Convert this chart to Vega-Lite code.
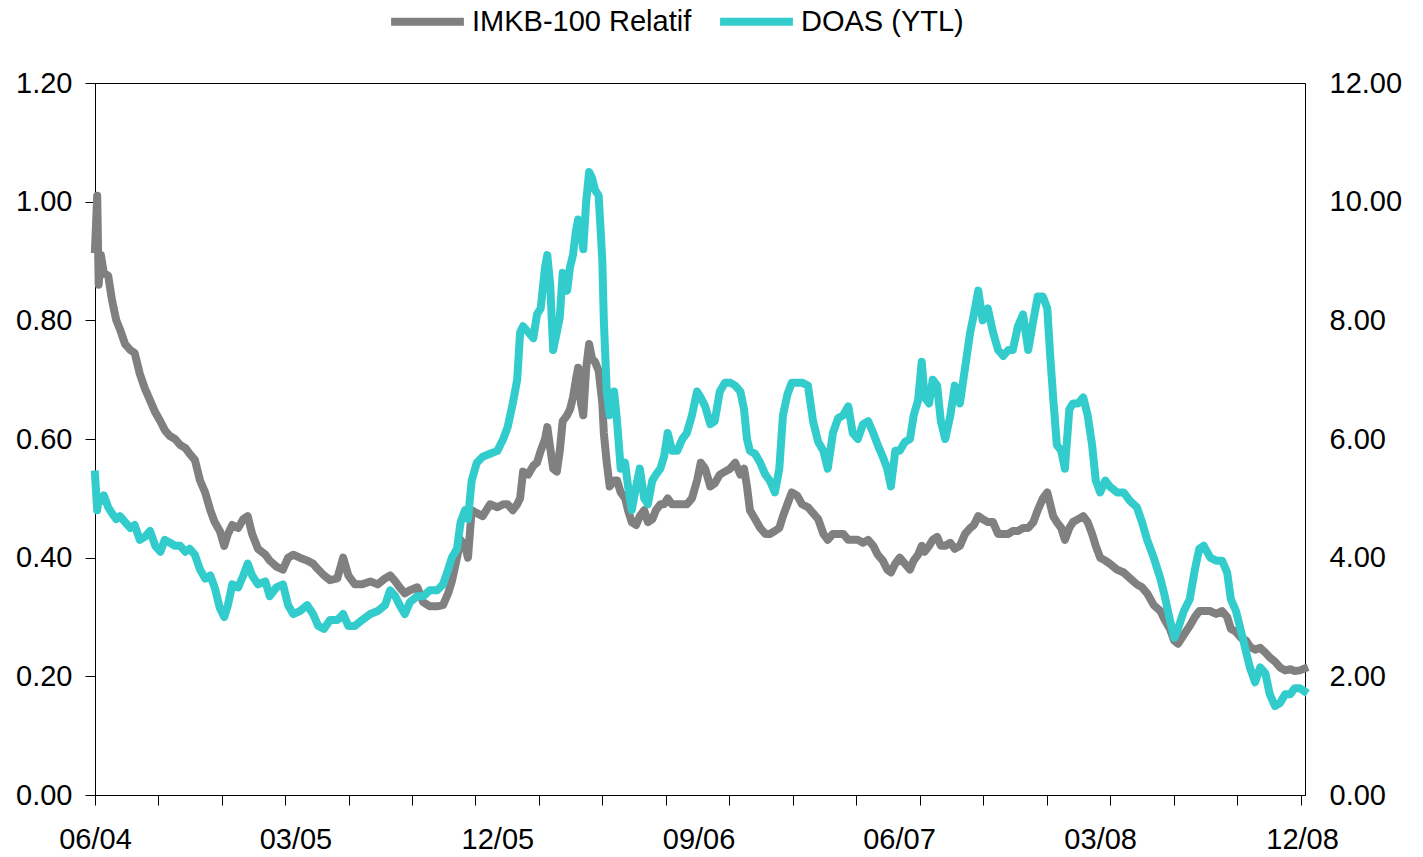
{
  "$schema": "https://vega.github.io/schema/vega-lite/v6.json",
  "width": 1210,
  "height": 712,
  "autosize": {"type": "none"},
  "padding": {"left": 95, "top": 83, "right": 118, "bottom": 62},
  "background": "white",
  "config": {
    "view": {"stroke": "#000000", "strokeWidth": 1},
    "axis": {
      "labelFont": "Liberation Sans",
      "labelFontSize": 29,
      "labelColor": "#000000",
      "domainColor": "#000000",
      "tickColor": "#000000",
      "domainWidth": 1,
      "tickWidth": 1,
      "grid": false,
      "title": null
    },
    "legend": {
      "labelFont": "Liberation Sans",
      "labelFontSize": 29,
      "labelColor": "#000000",
      "labelLimit": 400
    }
  },
  "data": {
    "values": [
      {"date": "2004-06-01", "imkb": 0.92, "doas": 5.4},
      {"date": "2004-06-04", "imkb": 1.01, "doas": 4.8},
      {"date": "2004-06-06", "imkb": 0.86, "doas": 5.0},
      {"date": "2004-06-09", "imkb": 0.91, "doas": 4.95},
      {"date": "2004-06-13", "imkb": 0.88, "doas": 5.05},
      {"date": "2004-06-19", "imkb": 0.875, "doas": 4.85},
      {"date": "2004-06-24", "imkb": 0.835, "doas": 4.75},
      {"date": "2004-06-30", "imkb": 0.80, "doas": 4.65},
      {"date": "2004-07-05", "imkb": 0.785, "doas": 4.7},
      {"date": "2004-07-12", "imkb": 0.76, "doas": 4.6},
      {"date": "2004-07-19", "imkb": 0.75, "doas": 4.5},
      {"date": "2004-07-25", "imkb": 0.745, "doas": 4.55},
      {"date": "2004-08-01", "imkb": 0.71, "doas": 4.3},
      {"date": "2004-08-08", "imkb": 0.685, "doas": 4.35},
      {"date": "2004-08-15", "imkb": 0.665, "doas": 4.45},
      {"date": "2004-08-22", "imkb": 0.645, "doas": 4.2},
      {"date": "2004-08-29", "imkb": 0.63, "doas": 4.1},
      {"date": "2004-09-04", "imkb": 0.615, "doas": 4.3},
      {"date": "2004-09-11", "imkb": 0.605, "doas": 4.25},
      {"date": "2004-09-18", "imkb": 0.60, "doas": 4.2},
      {"date": "2004-09-25", "imkb": 0.59, "doas": 4.2},
      {"date": "2004-10-02", "imkb": 0.585, "doas": 4.1},
      {"date": "2004-10-08", "imkb": 0.575, "doas": 4.15},
      {"date": "2004-10-15", "imkb": 0.565, "doas": 4.05},
      {"date": "2004-10-22", "imkb": 0.53, "doas": 3.8},
      {"date": "2004-10-29", "imkb": 0.51, "doas": 3.65},
      {"date": "2004-11-05", "imkb": 0.48, "doas": 3.7},
      {"date": "2004-11-11", "imkb": 0.46, "doas": 3.5},
      {"date": "2004-11-18", "imkb": 0.445, "doas": 3.15},
      {"date": "2004-11-24", "imkb": 0.42, "doas": 3.0},
      {"date": "2004-11-29", "imkb": 0.44, "doas": 3.2},
      {"date": "2004-12-05", "imkb": 0.455, "doas": 3.55},
      {"date": "2004-12-13", "imkb": 0.45, "doas": 3.5},
      {"date": "2004-12-20", "imkb": 0.465, "doas": 3.7},
      {"date": "2004-12-26", "imkb": 0.47, "doas": 3.9},
      {"date": "2005-01-01", "imkb": 0.44, "doas": 3.7},
      {"date": "2005-01-09", "imkb": 0.415, "doas": 3.55},
      {"date": "2005-01-19", "imkb": 0.405, "doas": 3.6},
      {"date": "2005-01-25", "imkb": 0.395, "doas": 3.35},
      {"date": "2005-02-03", "imkb": 0.385, "doas": 3.5},
      {"date": "2005-02-12", "imkb": 0.38, "doas": 3.55},
      {"date": "2005-02-19", "imkb": 0.40, "doas": 3.2},
      {"date": "2005-02-26", "imkb": 0.405, "doas": 3.05},
      {"date": "2005-03-07", "imkb": 0.40, "doas": 3.1},
      {"date": "2005-03-17", "imkb": 0.395, "doas": 3.2},
      {"date": "2005-03-25", "imkb": 0.39, "doas": 3.05},
      {"date": "2005-04-01", "imkb": 0.38, "doas": 2.85},
      {"date": "2005-04-09", "imkb": 0.37, "doas": 2.8},
      {"date": "2005-04-17", "imkb": 0.362, "doas": 2.95},
      {"date": "2005-04-27", "imkb": 0.365, "doas": 2.95},
      {"date": "2005-05-05", "imkb": 0.40, "doas": 3.05},
      {"date": "2005-05-12", "imkb": 0.37, "doas": 2.85},
      {"date": "2005-05-21", "imkb": 0.355, "doas": 2.85},
      {"date": "2005-05-31", "imkb": 0.355, "doas": 2.95},
      {"date": "2005-06-11", "imkb": 0.36, "doas": 3.05},
      {"date": "2005-06-21", "imkb": 0.355, "doas": 3.1},
      {"date": "2005-07-01", "imkb": 0.365, "doas": 3.2},
      {"date": "2005-07-08", "imkb": 0.37, "doas": 3.45},
      {"date": "2005-07-15", "imkb": 0.36, "doas": 3.35},
      {"date": "2005-07-21", "imkb": 0.35, "doas": 3.2},
      {"date": "2005-07-28", "imkb": 0.34, "doas": 3.05},
      {"date": "2005-08-04", "imkb": 0.345, "doas": 3.25},
      {"date": "2005-08-14", "imkb": 0.35, "doas": 3.35},
      {"date": "2005-08-22", "imkb": 0.325, "doas": 3.35},
      {"date": "2005-08-31", "imkb": 0.318, "doas": 3.45},
      {"date": "2005-09-10", "imkb": 0.318, "doas": 3.45},
      {"date": "2005-09-18", "imkb": 0.32, "doas": 3.55},
      {"date": "2005-09-25", "imkb": 0.34, "doas": 3.8},
      {"date": "2005-09-30", "imkb": 0.36, "doas": 4.0},
      {"date": "2005-10-07", "imkb": 0.40, "doas": 4.15},
      {"date": "2005-10-12", "imkb": 0.43, "doas": 4.6},
      {"date": "2005-10-18", "imkb": 0.42, "doas": 4.8},
      {"date": "2005-10-22", "imkb": 0.40, "doas": 4.65},
      {"date": "2005-10-27", "imkb": 0.48, "doas": 5.3},
      {"date": "2005-11-03", "imkb": 0.475, "doas": 5.6},
      {"date": "2005-11-11", "imkb": 0.47, "doas": 5.7},
      {"date": "2005-11-21", "imkb": 0.49, "doas": 5.75},
      {"date": "2005-12-01", "imkb": 0.485, "doas": 5.8},
      {"date": "2005-12-09", "imkb": 0.49, "doas": 6.0},
      {"date": "2005-12-15", "imkb": 0.49, "doas": 6.2},
      {"date": "2005-12-22", "imkb": 0.48, "doas": 6.6},
      {"date": "2005-12-28", "imkb": 0.49, "doas": 7.0},
      {"date": "2006-01-01", "imkb": 0.50, "doas": 7.8},
      {"date": "2006-01-05", "imkb": 0.545, "doas": 7.9},
      {"date": "2006-01-12", "imkb": 0.54, "doas": 7.8},
      {"date": "2006-01-19", "imkb": 0.555, "doas": 7.7},
      {"date": "2006-01-24", "imkb": 0.56, "doas": 8.1},
      {"date": "2006-01-29", "imkb": 0.58, "doas": 8.2},
      {"date": "2006-02-04", "imkb": 0.60, "doas": 8.9},
      {"date": "2006-02-07", "imkb": 0.62, "doas": 9.1},
      {"date": "2006-02-11", "imkb": 0.585, "doas": 8.6},
      {"date": "2006-02-15", "imkb": 0.55, "doas": 7.5},
      {"date": "2006-02-20", "imkb": 0.545, "doas": 7.8},
      {"date": "2006-02-24", "imkb": 0.58, "doas": 8.05},
      {"date": "2006-02-28", "imkb": 0.63, "doas": 8.8},
      {"date": "2006-03-06", "imkb": 0.64, "doas": 8.5},
      {"date": "2006-03-10", "imkb": 0.65, "doas": 8.9},
      {"date": "2006-03-14", "imkb": 0.67, "doas": 9.1},
      {"date": "2006-03-18", "imkb": 0.70, "doas": 9.5},
      {"date": "2006-03-21", "imkb": 0.72, "doas": 9.7},
      {"date": "2006-03-25", "imkb": 0.66, "doas": 9.6},
      {"date": "2006-03-28", "imkb": 0.64, "doas": 9.2},
      {"date": "2006-04-01", "imkb": 0.72, "doas": 10.0},
      {"date": "2006-04-05", "imkb": 0.76, "doas": 10.5},
      {"date": "2006-04-09", "imkb": 0.735, "doas": 10.4},
      {"date": "2006-04-13", "imkb": 0.73, "doas": 10.2},
      {"date": "2006-04-18", "imkb": 0.715, "doas": 10.1},
      {"date": "2006-04-23", "imkb": 0.66, "doas": 9.0},
      {"date": "2006-04-25", "imkb": 0.61, "doas": 8.0},
      {"date": "2006-04-29", "imkb": 0.56, "doas": 6.8},
      {"date": "2006-05-03", "imkb": 0.52, "doas": 6.4},
      {"date": "2006-05-09", "imkb": 0.53, "doas": 6.8},
      {"date": "2006-05-13", "imkb": 0.53, "doas": 6.3},
      {"date": "2006-05-18", "imkb": 0.51, "doas": 5.5},
      {"date": "2006-05-24", "imkb": 0.50, "doas": 5.6},
      {"date": "2006-05-28", "imkb": 0.48, "doas": 5.2},
      {"date": "2006-06-02", "imkb": 0.46, "doas": 4.8},
      {"date": "2006-06-08", "imkb": 0.455, "doas": 5.2},
      {"date": "2006-06-13", "imkb": 0.47, "doas": 5.5},
      {"date": "2006-06-19", "imkb": 0.48, "doas": 5.0},
      {"date": "2006-06-24", "imkb": 0.46, "doas": 4.9},
      {"date": "2006-06-30", "imkb": 0.465, "doas": 5.3},
      {"date": "2006-07-05", "imkb": 0.48, "doas": 5.4},
      {"date": "2006-07-11", "imkb": 0.49, "doas": 5.5},
      {"date": "2006-07-16", "imkb": 0.49, "doas": 5.7},
      {"date": "2006-07-21", "imkb": 0.50, "doas": 6.1},
      {"date": "2006-07-27", "imkb": 0.49, "doas": 5.8},
      {"date": "2006-08-03", "imkb": 0.49, "doas": 5.8},
      {"date": "2006-08-10", "imkb": 0.49, "doas": 6.0},
      {"date": "2006-08-16", "imkb": 0.49, "doas": 6.1},
      {"date": "2006-08-23", "imkb": 0.50, "doas": 6.4},
      {"date": "2006-08-30", "imkb": 0.53, "doas": 6.8},
      {"date": "2006-09-04", "imkb": 0.56, "doas": 6.7},
      {"date": "2006-09-10", "imkb": 0.55, "doas": 6.55},
      {"date": "2006-09-17", "imkb": 0.52, "doas": 6.25},
      {"date": "2006-09-23", "imkb": 0.525, "doas": 6.3},
      {"date": "2006-09-30", "imkb": 0.54, "doas": 6.8},
      {"date": "2006-10-07", "imkb": 0.545, "doas": 6.95},
      {"date": "2006-10-14", "imkb": 0.55, "doas": 6.95},
      {"date": "2006-10-21", "imkb": 0.56, "doas": 6.9},
      {"date": "2006-10-28", "imkb": 0.54, "doas": 6.8},
      {"date": "2006-11-02", "imkb": 0.55, "doas": 6.5},
      {"date": "2006-11-06", "imkb": 0.52, "doas": 6.0},
      {"date": "2006-11-10", "imkb": 0.48, "doas": 5.8},
      {"date": "2006-11-17", "imkb": 0.465, "doas": 5.75},
      {"date": "2006-11-24", "imkb": 0.45, "doas": 5.6},
      {"date": "2006-12-01", "imkb": 0.44, "doas": 5.4},
      {"date": "2006-12-07", "imkb": 0.44, "doas": 5.3},
      {"date": "2006-12-14", "imkb": 0.445, "doas": 5.1},
      {"date": "2006-12-20", "imkb": 0.45, "doas": 5.5},
      {"date": "2006-12-25", "imkb": 0.47, "doas": 6.4},
      {"date": "2006-12-31", "imkb": 0.49, "doas": 6.75},
      {"date": "2007-01-06", "imkb": 0.51, "doas": 6.95},
      {"date": "2007-01-13", "imkb": 0.505, "doas": 6.95},
      {"date": "2007-01-20", "imkb": 0.49, "doas": 6.95},
      {"date": "2007-01-28", "imkb": 0.485, "doas": 6.9},
      {"date": "2007-02-04", "imkb": 0.475, "doas": 6.3},
      {"date": "2007-02-11", "imkb": 0.465, "doas": 5.95},
      {"date": "2007-02-18", "imkb": 0.44, "doas": 5.8},
      {"date": "2007-02-24", "imkb": 0.43, "doas": 5.5},
      {"date": "2007-03-03", "imkb": 0.44, "doas": 6.1},
      {"date": "2007-03-10", "imkb": 0.44, "doas": 6.35},
      {"date": "2007-03-17", "imkb": 0.44, "doas": 6.4},
      {"date": "2007-03-24", "imkb": 0.43, "doas": 6.55},
      {"date": "2007-03-30", "imkb": 0.43, "doas": 6.1},
      {"date": "2007-04-06", "imkb": 0.43, "doas": 6.0},
      {"date": "2007-04-13", "imkb": 0.425, "doas": 6.25},
      {"date": "2007-04-20", "imkb": 0.43, "doas": 6.3},
      {"date": "2007-04-27", "imkb": 0.42, "doas": 6.1},
      {"date": "2007-05-03", "imkb": 0.405, "doas": 5.9},
      {"date": "2007-05-10", "imkb": 0.395, "doas": 5.7},
      {"date": "2007-05-16", "imkb": 0.38, "doas": 5.5},
      {"date": "2007-05-21", "imkb": 0.375, "doas": 5.2},
      {"date": "2007-05-27", "imkb": 0.39, "doas": 5.8},
      {"date": "2007-06-02", "imkb": 0.40, "doas": 5.8},
      {"date": "2007-06-09", "imkb": 0.39, "doas": 5.95},
      {"date": "2007-06-16", "imkb": 0.38, "doas": 6.0},
      {"date": "2007-06-21", "imkb": 0.395, "doas": 6.4},
      {"date": "2007-06-27", "imkb": 0.405, "doas": 6.65},
      {"date": "2007-07-02", "imkb": 0.42, "doas": 7.3},
      {"date": "2007-07-06", "imkb": 0.41, "doas": 6.7},
      {"date": "2007-07-12", "imkb": 0.42, "doas": 6.6},
      {"date": "2007-07-17", "imkb": 0.43, "doas": 7.0},
      {"date": "2007-07-23", "imkb": 0.435, "doas": 6.9},
      {"date": "2007-07-28", "imkb": 0.42, "doas": 6.3},
      {"date": "2007-08-03", "imkb": 0.42, "doas": 6.0},
      {"date": "2007-08-10", "imkb": 0.425, "doas": 6.4},
      {"date": "2007-08-16", "imkb": 0.415, "doas": 6.9},
      {"date": "2007-08-23", "imkb": 0.42, "doas": 6.6},
      {"date": "2007-08-30", "imkb": 0.44, "doas": 7.2},
      {"date": "2007-09-06", "imkb": 0.45, "doas": 7.8},
      {"date": "2007-09-11", "imkb": 0.455, "doas": 8.1},
      {"date": "2007-09-17", "imkb": 0.47, "doas": 8.5},
      {"date": "2007-09-23", "imkb": 0.465, "doas": 8.0},
      {"date": "2007-09-30", "imkb": 0.46, "doas": 8.2},
      {"date": "2007-10-07", "imkb": 0.46, "doas": 7.8},
      {"date": "2007-10-14", "imkb": 0.44, "doas": 7.5},
      {"date": "2007-10-21", "imkb": 0.44, "doas": 7.4},
      {"date": "2007-10-28", "imkb": 0.44, "doas": 7.5},
      {"date": "2007-11-03", "imkb": 0.445, "doas": 7.5},
      {"date": "2007-11-10", "imkb": 0.445, "doas": 7.9},
      {"date": "2007-11-17", "imkb": 0.45, "doas": 8.1},
      {"date": "2007-11-24", "imkb": 0.45, "doas": 7.5},
      {"date": "2007-12-01", "imkb": 0.46, "doas": 8.0},
      {"date": "2007-12-07", "imkb": 0.48, "doas": 8.4},
      {"date": "2007-12-14", "imkb": 0.50, "doas": 8.4},
      {"date": "2007-12-20", "imkb": 0.51, "doas": 8.2},
      {"date": "2007-12-24", "imkb": 0.49, "doas": 7.4},
      {"date": "2007-12-28", "imkb": 0.47, "doas": 6.7},
      {"date": "2008-01-02", "imkb": 0.46, "doas": 5.9},
      {"date": "2008-01-08", "imkb": 0.45, "doas": 5.8},
      {"date": "2008-01-13", "imkb": 0.43, "doas": 5.5},
      {"date": "2008-01-19", "imkb": 0.45, "doas": 6.5},
      {"date": "2008-01-24", "imkb": 0.46, "doas": 6.6},
      {"date": "2008-01-31", "imkb": 0.465, "doas": 6.6},
      {"date": "2008-02-07", "imkb": 0.47, "doas": 6.7},
      {"date": "2008-02-13", "imkb": 0.46, "doas": 6.4},
      {"date": "2008-02-19", "imkb": 0.44, "doas": 5.9},
      {"date": "2008-02-24", "imkb": 0.42, "doas": 5.3},
      {"date": "2008-03-01", "imkb": 0.40, "doas": 5.1},
      {"date": "2008-03-08", "imkb": 0.395, "doas": 5.3},
      {"date": "2008-03-14", "imkb": 0.39, "doas": 5.2},
      {"date": "2008-03-24", "imkb": 0.38, "doas": 5.1},
      {"date": "2008-04-02", "imkb": 0.375, "doas": 5.1},
      {"date": "2008-04-11", "imkb": 0.365, "doas": 4.95},
      {"date": "2008-04-20", "imkb": 0.355, "doas": 4.85},
      {"date": "2008-04-27", "imkb": 0.35, "doas": 4.6},
      {"date": "2008-05-04", "imkb": 0.34, "doas": 4.3},
      {"date": "2008-05-13", "imkb": 0.32, "doas": 4.0},
      {"date": "2008-05-22", "imkb": 0.31, "doas": 3.65},
      {"date": "2008-05-28", "imkb": 0.295, "doas": 3.35},
      {"date": "2008-06-04", "imkb": 0.28, "doas": 2.95},
      {"date": "2008-06-10", "imkb": 0.26, "doas": 2.65},
      {"date": "2008-06-15", "imkb": 0.255, "doas": 2.8},
      {"date": "2008-06-23", "imkb": 0.27, "doas": 3.1},
      {"date": "2008-07-01", "imkb": 0.285, "doas": 3.3},
      {"date": "2008-07-08", "imkb": 0.30, "doas": 3.8},
      {"date": "2008-07-14", "imkb": 0.31, "doas": 4.15},
      {"date": "2008-07-20", "imkb": 0.31, "doas": 4.2},
      {"date": "2008-07-29", "imkb": 0.31, "doas": 4.0},
      {"date": "2008-08-06", "imkb": 0.305, "doas": 3.95},
      {"date": "2008-08-14", "imkb": 0.31, "doas": 3.95},
      {"date": "2008-08-21", "imkb": 0.30, "doas": 3.75},
      {"date": "2008-08-26", "imkb": 0.28, "doas": 3.3},
      {"date": "2008-09-02", "imkb": 0.275, "doas": 3.1},
      {"date": "2008-09-09", "imkb": 0.265, "doas": 2.75},
      {"date": "2008-09-16", "imkb": 0.26, "doas": 2.4},
      {"date": "2008-09-21", "imkb": 0.25, "doas": 2.15},
      {"date": "2008-09-28", "imkb": 0.245, "doas": 1.9},
      {"date": "2008-10-05", "imkb": 0.248, "doas": 2.15},
      {"date": "2008-10-12", "imkb": 0.24, "doas": 2.05},
      {"date": "2008-10-18", "imkb": 0.232, "doas": 1.7},
      {"date": "2008-10-25", "imkb": 0.225, "doas": 1.5},
      {"date": "2008-11-01", "imkb": 0.215, "doas": 1.55},
      {"date": "2008-11-08", "imkb": 0.21, "doas": 1.7},
      {"date": "2008-11-15", "imkb": 0.212, "doas": 1.7},
      {"date": "2008-11-21", "imkb": 0.209, "doas": 1.8},
      {"date": "2008-11-28", "imkb": 0.21, "doas": 1.8},
      {"date": "2008-12-04", "imkb": 0.213, "doas": 1.75}
    ]
  },
  "layer": [
    {
      "mark": {"type": "line", "strokeWidth": 8, "strokeJoin": "round", "strokeCap": "square"},
      "encoding": {
        "x": {
          "field": "date",
          "type": "temporal",
          "scale": {
            "type": "utc",
            "domain": [
              {"year": 2004, "month": 6, "date": 1, "utc": true},
              {"year": 2008, "month": 12, "date": 5, "utc": true}
            ]
          },
          "axis": {
            "orient": "bottom",
            "labels": false,
            "tickSize": 10,
            "values": [
              {"year": 2004, "month": 6, "date": 1, "utc": true},
              {"year": 2004, "month": 8, "date": 26, "utc": true},
              {"year": 2004, "month": 11, "date": 21, "utc": true},
              {"year": 2005, "month": 2, "date": 15, "utc": true},
              {"year": 2005, "month": 5, "date": 13, "utc": true},
              {"year": 2005, "month": 8, "date": 7, "utc": true},
              {"year": 2005, "month": 11, "date": 1, "utc": true},
              {"year": 2006, "month": 1, "date": 27, "utc": true},
              {"year": 2006, "month": 4, "date": 23, "utc": true},
              {"year": 2006, "month": 7, "date": 19, "utc": true},
              {"year": 2006, "month": 10, "date": 13, "utc": true},
              {"year": 2007, "month": 1, "date": 7, "utc": true},
              {"year": 2007, "month": 4, "date": 4, "utc": true},
              {"year": 2007, "month": 6, "date": 29, "utc": true},
              {"year": 2007, "month": 9, "date": 24, "utc": true},
              {"year": 2007, "month": 12, "date": 19, "utc": true},
              {"year": 2008, "month": 3, "date": 14, "utc": true},
              {"year": 2008, "month": 6, "date": 9, "utc": true},
              {"year": 2008, "month": 9, "date": 3, "utc": true},
              {"year": 2008, "month": 11, "date": 29, "utc": true}
            ]
          }
        },
        "y": {
          "field": "imkb",
          "type": "quantitative",
          "scale": {"domain": [0, 1.2], "nice": false, "zero": false},
          "axis": {
            "orient": "left",
            "values": [0, 0.2, 0.4, 0.6, 0.8, 1.0, 1.2],
            "format": ".2f",
            "tickSize": 10,
            "labelPadding": 13
          }
        },
        "color": {
          "datum": "IMKB-100 Relatif",
          "scale": {"domain": ["IMKB-100 Relatif", "DOAS (YTL)"], "range": ["#808080", "#33CCCC"]},
          "legend": {
            "orient": "none",
            "direction": "horizontal",
            "legendX": 292,
            "legendY": -102,
            "title": null,
            "symbolType": "stroke",
            "symbolSize": 5300,
            "symbolStrokeWidth": 8,
            "labelOffset": 4,
            "columnPadding": 12,
            "padding": 0
          }
        }
      }
    },
    {
      "mark": {"type": "line", "strokeWidth": 8, "strokeJoin": "round", "strokeCap": "square"},
      "encoding": {
        "x": {
          "field": "date",
          "type": "temporal",
          "axis": {
            "orient": "bottom",
            "ticks": false,
            "tickSize": 0,
            "domain": false,
            "labelFlush": false,
            "labelOverlap": false,
            "labelPadding": 30,
            "labelExpr": "utcFormat(datum.value, '%m/%y')",
            "values": [
              {"year": 2004, "month": 6, "date": 1, "utc": true},
              {"year": 2005, "month": 3, "date": 1, "utc": true},
              {"year": 2005, "month": 12, "date": 1, "utc": true},
              {"year": 2006, "month": 9, "date": 1, "utc": true},
              {"year": 2007, "month": 6, "date": 1, "utc": true},
              {"year": 2008, "month": 3, "date": 1, "utc": true},
              {"year": 2008, "month": 12, "date": 1, "utc": true}
            ]
          }
        },
        "y": {
          "field": "doas",
          "type": "quantitative",
          "scale": {"domain": [0, 12], "nice": false, "zero": false},
          "axis": {
            "orient": "right",
            "values": [0, 2, 4, 6, 8, 10, 12],
            "format": ".2f",
            "ticks": false,
            "tickSize": 0,
            "labelPadding": 24
          }
        },
        "color": {"datum": "DOAS (YTL)"}
      }
    }
  ],
  "resolve": {"scale": {"y": "independent"}, "axis": {"x": "independent", "y": "independent"}}
}
